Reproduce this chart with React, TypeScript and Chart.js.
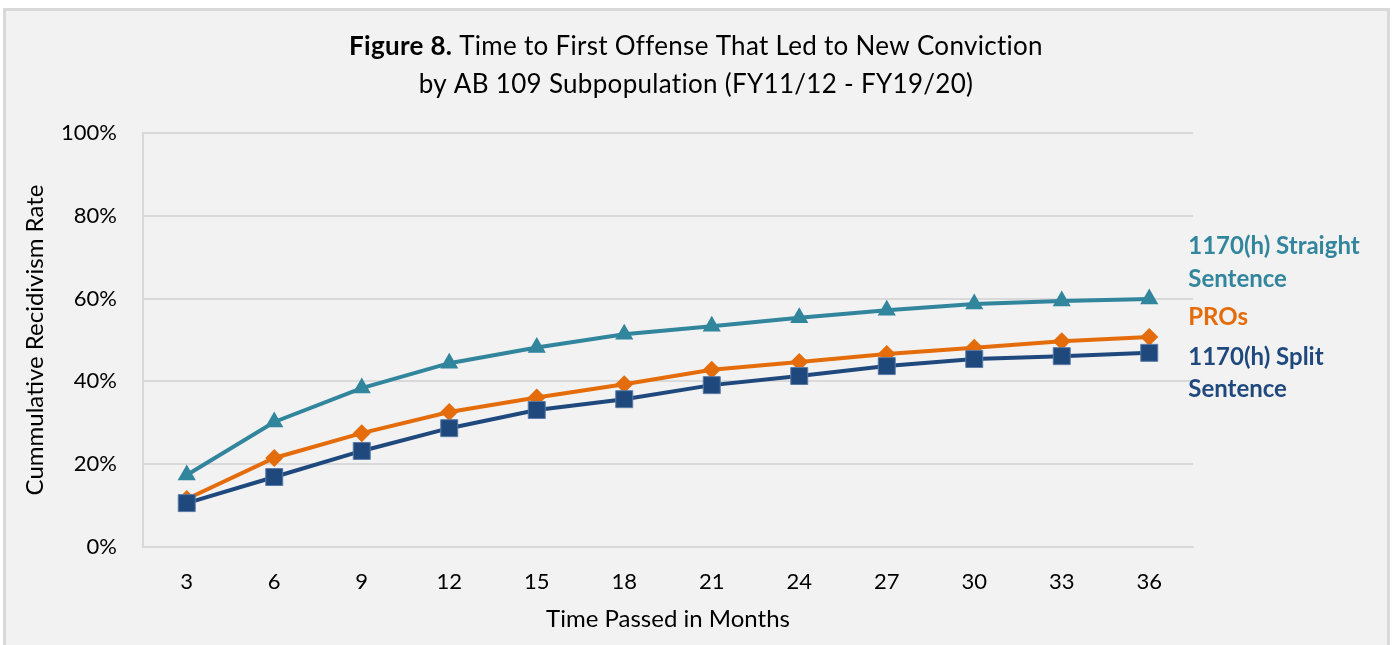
import React, { useEffect, useRef } from "react";
import { Chart, registerables } from "chart.js";

Chart.register(...registerables);

const months = ["3", "6", "9", "12", "15", "18", "21", "24", "27", "30", "33", "36"];
const straightSentence = [17.4, 30.2, 38.4, 44.4, 48.2, 51.4, 53.3, 55.4, 57.2, 58.7, 59.4, 59.9];
const pros = [11.6, 21.5, 27.5, 32.6, 36.1, 39.3, 42.8, 44.7, 46.6, 48.1, 49.7, 50.7];
const splitSentence = [10.6, 16.9, 23.2, 28.7, 33.1, 35.7, 39.1, 41.3, 43.7, 45.4, 46.1, 46.9];
const seriesNames = [["1170(h) Straight", "Sentence"], ["PROs"], ["1170(h) Split", "Sentence"]];
const yTicks = [0, 20, 40, 60, 80, 100];
const titleBold = "Figure 8.";
const titleRest = " Time to First Offense That Led to New Conviction";
const titleLine2 = "by AB 109 Subpopulation (FY11/12 - FY19/20)";
const xTitle = "Time Passed in Months";
const yTitle = "Cummulative Recidivism Rate";

const FONT = "Lato, 'Noto Sans', sans-serif";
const TEAL = "#31859c";
const ORANGE = "#e46c0a";
const NAVY = "#1f497d";

// vertical offsets (px) of the end labels' lines relative to the last point
const labelOffsets = [[-53, -20], [-20], [4, 36]];

const titlePlugin = {
  id: "customTitle",
  afterDraw(chart: any) {
    const ctx = chart.ctx;
    const cx = 696;
    ctx.save();
    ctx.fillStyle = "#000";
    ctx.textBaseline = "middle";
    (ctx as any).letterSpacing = "0.3px";
    const bold = `bold 26px ${FONT}`;
    const norm = `26px ${FONT}`;
    ctx.font = bold;
    const wb = ctx.measureText(titleBold).width;
    ctx.font = norm;
    const wr = ctx.measureText(titleRest).width;
    const start = cx - (wb + wr) / 2;
    ctx.textAlign = "left";
    ctx.font = bold;
    ctx.fillText(titleBold, start, 47);
    ctx.font = norm;
    ctx.fillText(titleRest, start + wb, 47);
    ctx.textAlign = "center";
    ctx.fillText(titleLine2, cx, 85);
    ctx.restore();
  },
};

const endLabelPlugin = {
  id: "endLabels",
  afterDatasetsDraw(chart: any) {
    const ctx = chart.ctx;
    ctx.save();
    ctx.font = `bold 24px ${FONT}`;
    ctx.textAlign = "left";
    ctx.textBaseline = "middle";
    chart.data.datasets.forEach((ds: any, i: number) => {
      const meta = chart.getDatasetMeta(i);
      const pt = meta.data[meta.data.length - 1];
      if (!pt) return;
      ctx.fillStyle = ds.borderColor;
      seriesNames[i].forEach((line, j) => {
        ctx.fillText(line, pt.x + 39, pt.y + labelOffsets[i][j]);
      });
    });
    ctx.restore();
  },
};

export default function App() {
  const ref = useRef<HTMLCanvasElement>(null);
  useEffect(() => {
    if (!ref.current) return;
    const chart = new Chart(ref.current, {
      type: "line",
      data: {
        labels: months,
        datasets: [
          {
            label: "1170(h) Straight Sentence",
            data: straightSentence,
            borderColor: TEAL,
            backgroundColor: TEAL,
            borderWidth: 4,
            pointStyle: "triangle",
            pointRadius: 10.5,
            pointBorderWidth: 0,
            pointBackgroundColor: TEAL,
            tension: 0,
            order: 2,
          },
          {
            label: "PROs",
            data: pros,
            borderColor: ORANGE,
            backgroundColor: ORANGE,
            borderWidth: 4,
            pointStyle: "rectRot",
            pointRadius: 9,
            pointBorderWidth: 0,
            pointBackgroundColor: ORANGE,
            tension: 0,
            order: 1,
          },
          {
            label: "1170(h) Split Sentence",
            data: splitSentence,
            borderColor: NAVY,
            backgroundColor: NAVY,
            borderWidth: 4,
            pointStyle: "rect",
            pointRadius: 12,
            pointBorderWidth: 1,
            pointBorderColor: "#5a7aa6",
            pointBackgroundColor: NAVY,
            tension: 0,
            order: 0,
          },
        ],
      },
      options: {
        animation: false,
        responsive: false,
        maintainAspectRatio: false,
        layout: { padding: { left: 21, top: 133, right: 205, bottom: 11 } },
        plugins: {
          legend: { display: false },
          title: { display: false },
          tooltip: { enabled: false },
        },
        scales: {
          x: {
            offset: true,
            afterFit: (s: any) => {
              s.height = 87;
            },
            grid: { display: false, drawTicks: false },
            border: { display: true, color: "#d9d9d9", width: 2 },
            ticks: { padding: 22, color: "#000", font: { family: FONT, size: 22 } },
            title: {
              display: true,
              text: xTitle,
              color: "#000",
              font: { family: FONT, size: 24 },
              padding: { top: 14, bottom: 0 },
            },
          },
          y: {
            min: 0,
            max: 100,
            afterFit: (s: any) => {
              s.width = 122;
            },
            afterBuildTicks: (s: any) => {
              s.ticks = yTicks.map((v) => ({ value: v }));
            },
            grid: { color: "#d9d9d9", lineWidth: 2, drawTicks: false },
            border: { display: true, color: "#d9d9d9", width: 2 },
            ticks: {
              padding: 26,
              color: "#000",
              font: { family: FONT, size: 22 },
              callback: (v: any) => `${v}%`,
            },
            title: {
              display: true,
              text: yTitle,
              color: "#000",
              font: { family: FONT, size: 24 },
              padding: { top: 0, bottom: 10 },
            },
          },
        },
      },
      plugins: [titlePlugin, endLabelPlugin],
    });
    return () => chart.destroy();
  }, []);

  return (
    <div style={{ position: "fixed", left: 0, top: 0, width: 1398, height: 645, overflow: "hidden", background: "#fff" }}>
      <div
        style={{
          position: "absolute",
          left: 3,
          top: 8,
          width: 1387,
          height: 700,
          boxSizing: "border-box",
          border: "3px solid #d9d9d9",
          background: "#f2f2f2",
        }}
      />
      <canvas ref={ref} width={1398} height={645} style={{ position: "absolute", left: 0, top: 0, width: 1398, height: 645 }} />
    </div>
  );
}
